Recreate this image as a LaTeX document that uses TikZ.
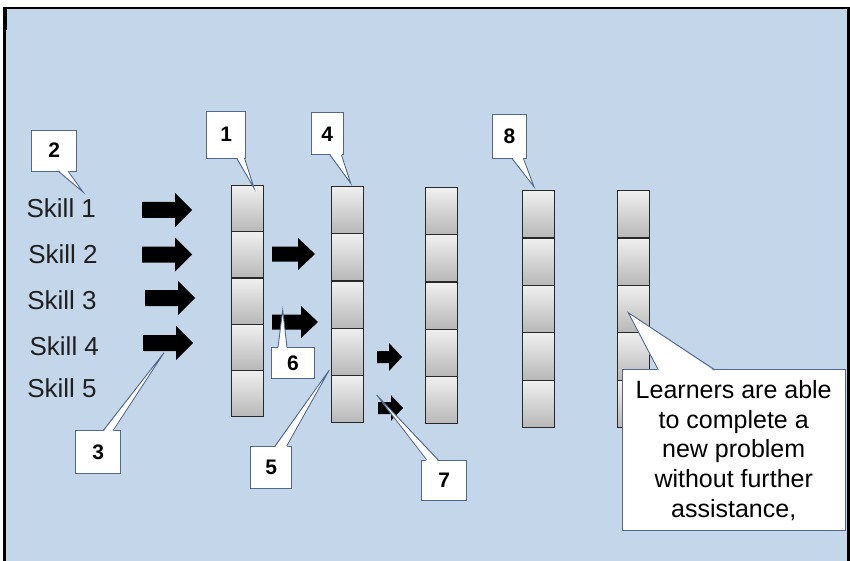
\documentclass[tikz,border=0pt]{standalone}
\usepackage{fontspec}
\setmainfont{Liberation Sans}
\definecolor{bgblue}{RGB}{195,214,234}
\definecolor{cbord}{RGB}{80,104,140}
\definecolor{cellline}{RGB}{40,40,40}
\tikzset{
  numbox/.style={draw=cbord, fill=white, line width=0.9pt, inner sep=0pt,
    font=\fontsize{21}{24}\selectfont\bfseries},
  bigbox/.style={draw=cbord, fill=white, line width=0.9pt, inner sep=0pt, align=center,
    font=\fontsize{25}{29.7}\selectfont},
  tailline/.style={draw=cbord, line width=0.9pt, line join=miter},
  cell/.style={draw=cellline, line width=1.2pt, top color=white!94!black,
    bottom color=white!72!black, minimum width=32pt, inner sep=0pt},
  skill/.style={font=\fontsize{26}{30}\selectfont, text=black!88, anchor=base, inner sep=0pt},
  pics/barrow/.style args={#1/#2/#3/#4}{code={
    \fill[black] (0,-#3) -- ({#1-#2},-#3) -- ({#1-#2},-#4) -- (#1,0)
      -- ({#1-#2},#4) -- ({#1-#2},#3) -- (0,#3) -- cycle;}},
}
\begin{document}
\begin{tikzpicture}[x=1pt,y=-1pt]
\useasboundingbox (0,0) rectangle (850,561);
% frame and background
\fill[black] (3,7) rectangle (850,561);
\fill[bgblue] (6,9.5) rectangle (846.5,561);
\fill[black] (3,7) rectangle (7,30);

% skill labels
\node[skill] (s1) at (61.3,218) {Skill 1};
\node[skill] (s2) at (63,263) {Skill 2};
\node[skill] (s3) at (62,309.5) {Skill 3};
\node[skill] (s4) at (64.3,355) {Skill 4};
\node[skill] (s5) at (62,397) {Skill 5};

% columns of cells
\foreach \c/\l/\t/\b in {1/231/185/416, 2/331/186/422, 3/424.5/187/423, 4/522/190/427, 5/617/190/427}{
  \pgfmathsetmacro\h{(\b-\t)/5}
  \foreach \i in {1,...,5}{
    \node[cell, minimum height=\h pt, anchor=north west] (c\c-\i) at (\l,{\t+(\i-1)*\h}) {};
  }
}

% block arrows
\pic at (142,210) {barrow=50/17/8/17};
\pic at (142,254.5) {barrow=50/17/8/17};
\pic at (145,298) {barrow=50/17/8/17};
\pic at (143,343) {barrow=50/17/8/17};
\pic at (272,254) {barrow=43/17/7.5/16};
\pic at (272,322) {barrow=46/17/7.5/16};
\pic at (377,357) {barrow=25/13/6/14};
\pic at (378,408) {barrow=25/12/6/12.8};

% callout 2
\node[numbox, minimum width=45pt, minimum height=41pt] (n2) at (54.2,150.5) {2};
\coordinate (t2) at (83,192);
\fill[white] (58,169.5) -- (t2) -- (68,169.5) -- cycle;
\draw[tailline] (58,171) -- (t2) -- (68,171);
% callout 1
\node[numbox, minimum width=39pt, minimum height=47pt] (n1) at (226.2,134.5) {1};
\coordinate (t1) at (254,188);
\fill[white] (236.5,156.5) -- (t1) -- (244.5,156.5) -- cycle;
\draw[tailline] (236.5,158) -- (t1) -- (244.5,158);
% callout 4
\node[numbox, minimum width=32pt, minimum height=42pt] (n4) at (327.2,133.9) {4};
\coordinate (t4) at (350.7,183.3);
\fill[white] (330,153.5) -- (t4) -- (341.5,153.5) -- cycle;
\draw[tailline] (330,155) -- (t4) -- (341.5,155);
% callout 8
\node[numbox, minimum width=34pt, minimum height=44pt] (n8) at (509.5,136.2) {8};
\coordinate (t8) at (534,186.7);
\fill[white] (511.7,156.7) -- (t8) -- (523.3,156.7) -- cycle;
\draw[tailline] (511.7,158.2) -- (t8) -- (523.3,158.2);
% callout 6
\node[numbox, minimum width=43pt, minimum height=31pt] (n6) at (293,362.8) {6};
\coordinate (t6) at (282.7,310);
\fill[white] (278,348.8) -- (t6) -- (287,348.8) -- cycle;
\draw[tailline] (278,347.3) -- (t6) -- (287,347.3);
% callout 3
\node[numbox, minimum width=45pt, minimum height=43pt] (n3) at (98.3,452.3) {3};
\coordinate (t3) at (164,352.7);
\fill[white] (103,432.2) -- (t3) -- (113,432.2) -- cycle;
\draw[tailline] (103,430.8) -- (t3) -- (113,430.8);
% callout 5
\node[numbox, minimum width=41pt, minimum height=42pt] (n5) at (271.3,467.1) {5};
\coordinate (t5) at (329.3,370);
\fill[white] (275,447.5) -- (t5) -- (286.7,447.5) -- cycle;
\draw[tailline] (275,446.1) -- (t5) -- (286.7,446.1);
% callout 7
\node[numbox, minimum width=45pt, minimum height=40pt] (n7) at (444.2,480) {7};
\coordinate (t7) at (376.7,395);
\fill[white] (426.7,461.5) -- (t7) -- (438.3,461.5) -- cycle;
\draw[tailline] (426.7,460) -- (t7) -- (438.3,460);
% big callout
\node[bigbox, minimum width=223pt, minimum height=161pt] (nb) at (733.7,450.3)
  {Learners are able\\to complete a\\new problem\\without further\\assistance,};
\coordinate (tb) at (628.3,312.7);
\fill[white] (658.3,371.5) -- (tb) -- (715,371.5) -- cycle;
\draw[tailline] (658.3,370) -- (tb) -- (715,370);
\end{tikzpicture}
\end{document}
